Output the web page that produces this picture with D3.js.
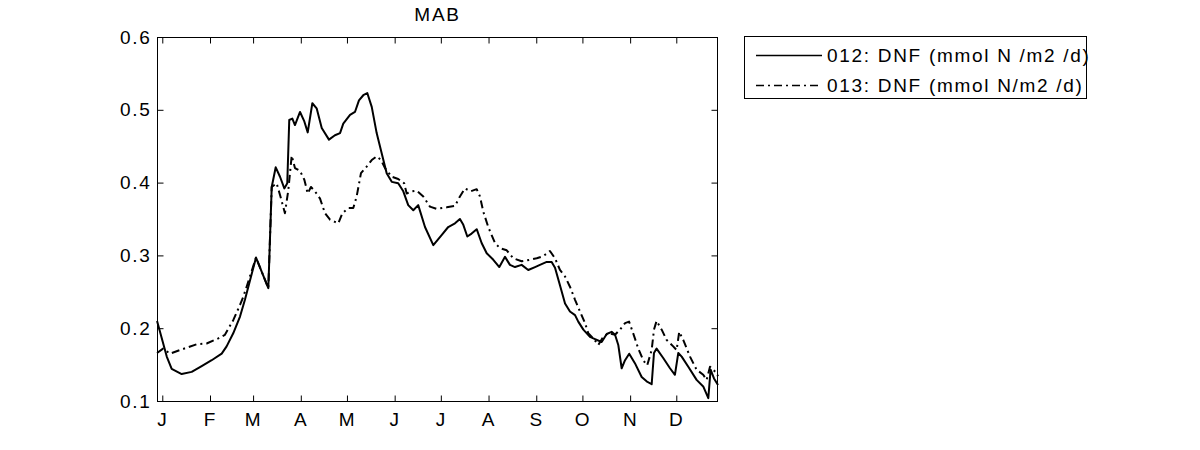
<!DOCTYPE html>
<html>
<head>
<meta charset="utf-8">
<script src="https://cdn.jsdelivr.net/npm/d3@7"></script>
<style>
  html, body { margin: 0; padding: 0; background: #fff; }
  svg { display: block; }
  text { font-family: "Liberation Sans", Arial, Helvetica, sans-serif; fill: #000; }
</style>
</head>
<body>
<svg id="chart" width="1200" height="450"></svg>
<script>
// ---- data ----
const title = "MAB";
const monthStarts = [0, 31, 59, 90, 120, 151, 181, 212, 243, 273, 304, 334];
const monthLabels = ["J", "F", "M", "A", "M", "J", "J", "A", "S", "O", "N", "D"];
const yTicks = [0.1, 0.2, 0.3, 0.4, 0.5, 0.6];
const seriesNames = ["012: DNF (mmol N /m2 /d)", "013: DNF (mmol N/m2 /d)"];

const days012 = [-3.4, 2.9, 6.1, 12.6, 19.1, 25.6, 32.1, 38.6, 41.8, 46.1,
  50.5, 53.7, 60.9, 68.9, 71.1, 73.7, 76.5, 79.3, 81.2, 82.5,
  84.5, 86.2, 89.5, 92.3, 94.5, 97.5, 100.3, 103.6, 108.3, 112.2,
  115.5, 117.6, 122, 125.2, 127.8, 130.6, 133.2, 136.1, 139.3, 142.6,
  145.8, 149.1, 153.3, 156.6, 159.8, 163.1, 166.3, 170.7, 176.1, 181.5,
  185.8, 190.2, 193.4, 195.6, 198.2, 201, 204.3, 207.5, 210.8, 215.1,
  219, 222.7, 225.9, 229.2, 233.5, 237.8, 242.2, 245.4, 249.8, 253,
  255.2, 258.4, 261.7, 264.9, 268.2, 270.3, 273.6, 277.9, 281.2, 285.5,
  288.8, 292, 294.2, 296.3, 298.5, 300.7, 303.4, 307.1, 311.5, 314.7,
  318, 319.5, 321.2, 325.5, 329.9, 333.1, 335.3, 337.5, 341.8, 347.2,
  351.5, 354.8, 356.3, 358.5, 361.1];
const vals012 = [0.210, 0.161, 0.144, 0.137, 0.140, 0.148, 0.156, 0.165, 0.175, 0.193,
  0.216, 0.239, 0.297, 0.255, 0.394, 0.421, 0.408, 0.392, 0.399, 0.486,
  0.488, 0.479, 0.497, 0.484, 0.469, 0.509, 0.502, 0.475, 0.459, 0.465,
  0.468, 0.481, 0.493, 0.497, 0.513, 0.520, 0.523, 0.504, 0.468, 0.440,
  0.413, 0.401, 0.399, 0.388, 0.369, 0.362, 0.369, 0.339, 0.314, 0.328,
  0.339, 0.344, 0.350, 0.342, 0.326, 0.330, 0.336, 0.317, 0.303, 0.294,
  0.284, 0.298, 0.287, 0.284, 0.287, 0.280, 0.284, 0.287, 0.291, 0.291,
  0.283, 0.259, 0.234, 0.223, 0.218, 0.209, 0.198, 0.188, 0.185, 0.181,
  0.192, 0.195, 0.191, 0.177, 0.145, 0.156, 0.165, 0.152, 0.133, 0.127,
  0.123, 0.166, 0.172, 0.159, 0.145, 0.136, 0.166, 0.161, 0.147, 0.129,
  0.120, 0.104, 0.143, 0.131, 0.122];

const days013 = [-3.4, 0.5, 5.0, 11.5, 22.4, 28.8, 36.4, 40.7, 46.1, 50.5,
  52.6, 54.8, 60.9, 68.9, 71.1, 74.3, 76.5, 79.7, 81.9, 84.1,
  86.2, 89.5, 92.3, 94.5, 96.6, 99.2, 102.5, 105.7, 109, 112.2,
  114.4, 117, 120.9, 124.1, 126.3, 129.1, 132.8, 136.1, 139.3, 142.1,
  144.7, 149.1, 153.3, 157.2, 158.8, 162, 165.3, 169.6, 173.9, 178.3,
  184.8, 190.2, 193.4, 196.7, 200.4, 204.3, 206.4, 208.6, 211.8, 216.2,
  219.4, 223.8, 228.1, 233.5, 238.9, 243.3, 247.6, 251.9, 255.2, 258.4,
  261.7, 264.9, 268.2, 271.4, 274.7, 276.8, 280.1, 283.3, 286.5, 289.8,
  294.2, 297.4, 300.7, 303.3, 306, 309.3, 312.5, 315.1, 318, 319.5,
  321.2, 324.5, 327.7, 332, 334.2, 335.9, 338.5, 342.9, 347.2, 351.5,
  353.7, 355.9, 358, 360.2, 361.1];
const vals013 = [0.166, 0.172, 0.165, 0.170, 0.178, 0.179, 0.186, 0.191, 0.211, 0.232,
  0.243, 0.257, 0.297, 0.255, 0.394, 0.399, 0.383, 0.358, 0.390, 0.437,
  0.420, 0.416, 0.404, 0.385, 0.394, 0.388, 0.378, 0.358, 0.349, 0.346,
  0.344, 0.358, 0.365, 0.365, 0.381, 0.413, 0.422, 0.431, 0.436, 0.431,
  0.420, 0.408, 0.405, 0.399, 0.385, 0.388, 0.389, 0.381, 0.367, 0.364,
  0.366, 0.368, 0.381, 0.392, 0.388, 0.391, 0.381, 0.360, 0.339, 0.317,
  0.310, 0.307, 0.296, 0.292, 0.294, 0.296, 0.299, 0.306, 0.296, 0.280,
  0.271, 0.257, 0.239, 0.223, 0.207, 0.193, 0.186, 0.177, 0.188, 0.193,
  0.191, 0.198, 0.207, 0.209, 0.193, 0.172, 0.156, 0.149, 0.170, 0.198,
  0.210, 0.198, 0.184, 0.175, 0.170, 0.195, 0.184, 0.161, 0.143, 0.136,
  0.129, 0.147, 0.143, 0.138, 0.134];

// ---- layout ----
const svg = d3.select("#chart");
const L = 157, R = 718, T = 37, B = 401;
const x = d3.scaleLinear().domain([-3.44, 361.1]).range([L, R]);
const y = d3.scaleLinear().domain([0.1, 0.6]).range([B, T]);
const fontSize = "19px", letterSp = "1.7px";

const series = [
  { name: seriesNames[0], pts: d3.zip(days012, vals012), dash: null },
  { name: seriesNames[1], pts: d3.zip(days013, vals013), dash: "8,4,2,4" }
];

// box
svg.append("rect").attr("x", L + 0.5).attr("y", T + 0.5)
  .attr("width", R - L - 1).attr("height", B - T)
  .attr("fill", "none").attr("stroke", "#000").attr("stroke-width", 1);

function styleAxis(g) {
  g.select(".domain").remove();
  g.selectAll("line").attr("stroke", "#000");
  g.selectAll("text").style("font-size", fontSize).style("letter-spacing", letterSp);
}

// axes
svg.append("g").attr("transform", `translate(0,${B + 0.5})`)
  .call(d3.axisBottom(x).tickValues(monthStarts).tickFormat((d, i) => monthLabels[i])
    .tickSizeInner(-6).tickSizeOuter(0).tickPadding(11))
  .call(styleAxis);
svg.append("g").attr("transform", `translate(0,${T + 0.5})`)
  .call(d3.axisTop(x).tickValues(monthStarts).tickFormat("")
    .tickSizeInner(-6).tickSizeOuter(0))
  .call(styleAxis);
svg.append("g").attr("transform", `translate(${L + 0.5},0)`)
  .call(d3.axisLeft(y).tickValues(yTicks).tickFormat(d3.format(".1f"))
    .tickSizeInner(-6).tickSizeOuter(0).tickPadding(6))
  .call(styleAxis);
svg.append("g").attr("transform", `translate(${R - 0.5},0)`)
  .call(d3.axisRight(y).tickValues(yTicks).tickFormat("")
    .tickSizeInner(-6).tickSizeOuter(0))
  .call(styleAxis);

// lines
const line = d3.line().x(d => x(d[0])).y(d => y(d[1]));
series.forEach(s => {
  svg.append("path").datum(s.pts)
    .attr("d", line).attr("fill", "none").attr("stroke", "#000")
    .attr("stroke-width", 2).attr("stroke-linejoin", "round")
    .attr("stroke-dasharray", s.dash);
});

// title
svg.append("text").attr("x", (L + R) / 2).attr("y", 21)
  .attr("text-anchor", "middle").style("font-size", fontSize)
  .style("letter-spacing", letterSp).text(title);

// legend
const lg = svg.append("g");
lg.append("rect").attr("x", 744.5).attr("y", 36.5).attr("width", 342).attr("height", 62)
  .attr("fill", "#fff").attr("stroke", "#000").attr("stroke-width", 1);
series.forEach((s, i) => {
  const cy = 55.5 + i * 30;
  lg.append("line").attr("x1", 756).attr("x2", 822).attr("y1", cy).attr("y2", cy)
    .attr("stroke", "#000").attr("stroke-width", 1.5)
    .attr("stroke-dasharray", s.dash);
  lg.append("text").attr("x", 827).attr("y", cy).attr("dy", "0.36em")
    .style("font-size", fontSize).style("letter-spacing", letterSp).text(s.name);
});
</script>
</body>
</html>
